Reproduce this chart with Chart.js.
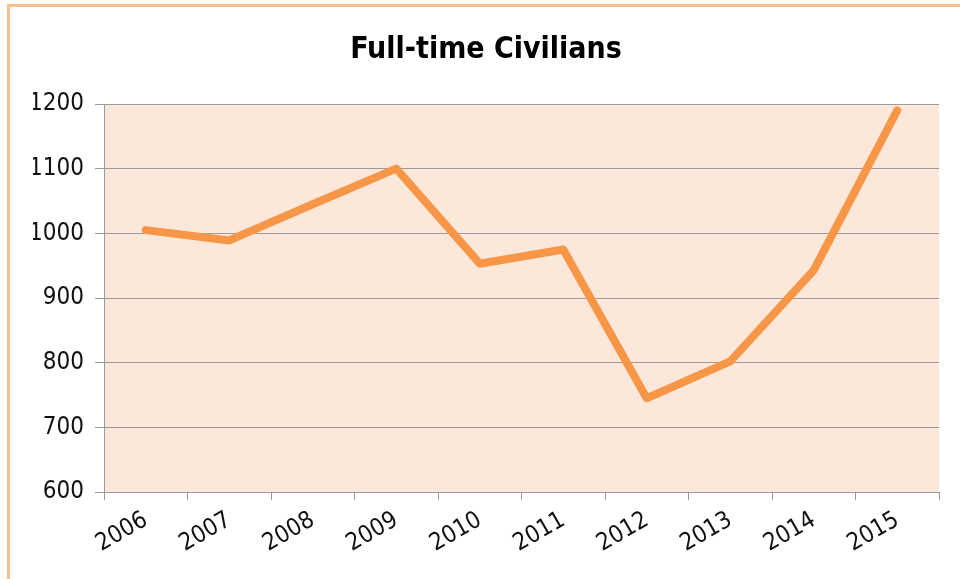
<!DOCTYPE html>
<html>
<head>
<meta charset="utf-8">
<title>Full-time Civilians</title>
<script src="https://cdn.jsdelivr.net/npm/chart.js@4"></script>
<style>
    html, body { margin: 0; padding: 0; background: #fff; }
    #wrap { position: relative; width: 960px; height: 579px; }
    #frame {
        position: absolute; left: 7px; top: 4px; right: 0; bottom: 0;
        border-top: 3px solid #FAC08F; border-left: 3px solid #FAC08F;
    }
    canvas { position: absolute; left: 0; top: 0; }
</style>
</head>
<body>
<div id="wrap">
    <div id="frame"></div>
    <canvas id="chart" width="960" height="579"></canvas>
</div>
<script>
// Data
const years = ['2006', '2007', '2008', '2009', '2010', '2011', '2012', '2013', '2014', '2015'];
const civilians = [1005, 989, 1045, 1100, 953, 975, 745, 802, 943, 1190];
const yMin = 600;
const yMax = 1200;
const yStep = 100;

const fontFamily = '"Liberation Sans Narrow", "DejaVu Sans Condensed", "Open Sans", sans-serif';

// Fill the plot area behind the line
const plotBackground = {
    id: 'plotBackground',
    beforeDraw(chart) {
        const { ctx, chartArea } = chart;
        ctx.save();
        ctx.fillStyle = '#FCE8DA';
        ctx.fillRect(chartArea.left, chartArea.top, chartArea.right - chartArea.left, chartArea.bottom - chartArea.top);
        ctx.restore();
    }
};

new Chart(document.getElementById('chart'), {
    type: 'line',
    data: {
        labels: years,
        datasets: [{
            label: 'Full-time Civilians',
            data: civilians,
            borderColor: '#F79646',
            borderWidth: 8,
            borderCapStyle: 'round',
            borderJoinStyle: 'round',
            pointRadius: 0,
            tension: 0,
            fill: false
        }]
    },
    options: {
        responsive: false,
        animation: false,
        layout: { padding: { left: 33, right: 21, top: 0, bottom: 0 } },
        plugins: {
            legend: { display: false },
            tooltip: { enabled: false },
            title: {
                display: true,
                text: 'Full-time Civilians',
                color: '#000',
                font: { family: fontFamily, size: 30, weight: 'bold', lineHeight: 1.2 },
                padding: { top: 32, bottom: 36 }
            }
        },
        scales: {
            x: {
                offset: true,
                grid: {
                    offset: true,
                    drawOnChartArea: false,
                    drawTicks: true,
                    tickLength: 8,
                    color: '#9A9A9A'
                },
                border: { color: '#9A9A9A', width: 1 },
                ticks: {
                    color: '#111',
                    font: { family: fontFamily, size: 24 },
                    minRotation: 30,
                    maxRotation: 30,
                    padding: 6
                },
                afterFit(axis) { axis.height = 87; }
            },
            y: {
                min: yMin,
                max: yMax,
                grid: { color: '#9A9A9A', tickLength: 9 },
                border: { color: '#9A9A9A', width: 1 },
                ticks: {
                    stepSize: yStep,
                    color: '#111',
                    font: { family: fontFamily, size: 24 },
                    padding: 11,
                    callback: (value) => String(value)
                },
                afterFit(axis) { axis.width = 71; }
            }
        }
    },
    plugins: [plotBackground]
});
</script>
</body>
</html>
